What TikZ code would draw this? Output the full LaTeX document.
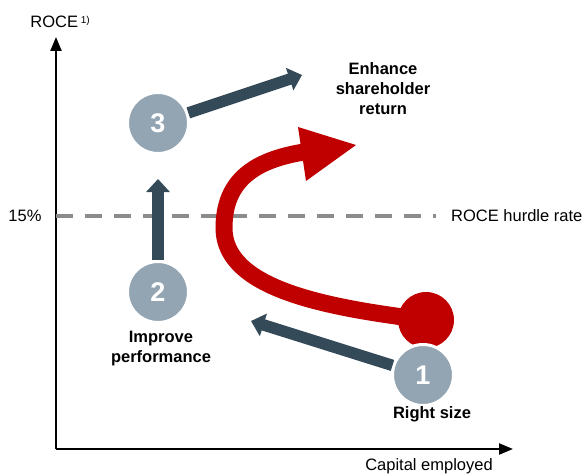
\documentclass[tikz,border=0pt]{standalone}
\usepackage{fontspec}
\setmainfont{Liberation Sans}
\usetikzlibrary{arrows.meta}
\definecolor{slate}{HTML}{344A59}
\definecolor{circg}{HTML}{93A5B3}
\definecolor{redc}{HTML}{C00000}
\definecolor{dashg}{HTML}{8C8C8C}
\tikzset{
  axis/.style={line width=2.2pt, -{Triangle[length=14pt,width=11pt]}},
  darr/.style={draw=slate, line width=11.5pt, -{Triangle[length=13pt,width=23pt]}},
  numc/.style={circle, fill=circg, draw=white, line width=3pt, minimum size=61pt, inner sep=0pt,
    text=white, font=\fontsize{27}{27}\selectfont\bfseries},
  lbl/.style={font=\fontsize{16.5}{19}\selectfont, inner sep=0pt},
  blbl/.style={font=\fontsize{16.5}{20}\selectfont\bfseries, align=center, inner sep=0pt},
}
\begin{document}
\begin{tikzpicture}[x=1pt,y=-1pt]
\useasboundingbox (0,0) rectangle (586,476);
% axes
\coordinate (o) at (56,449);
\coordinate (ytip) at (56,37);
\coordinate (xtip) at (513,449);
\draw[axis] (o) -- (ytip);
\draw[axis] (56,449) -- (xtip);
\node[lbl] (ylab) at (60,22) {ROCE\,\raisebox{0.5ex}{\fontsize{10}{10}\selectfont 1)}};
\node[lbl] (xlab) at (429,466) {Capital employed};
% hurdle
\coordinate (h0) at (56,216);
\coordinate (h1) at (436,216);
\draw[dashg, line width=4.5pt, dash pattern=on 17pt off 12pt] (h0) -- (h1);
\node[lbl] (pct) at (25,216) {15\%};
\node[lbl, anchor=west] (hurdle) at (451,216) {ROCE hurdle rate};
% red curve
\node[circle, fill=redc, minimum size=56pt, inner sep=0pt] (rc) at (426,320) {};
\draw[redc, line width=17pt] (rc.center) .. controls (330,308) and (224,290) .. (224,228)
  .. controls (224,180) and (255,160) .. (304,152);
\fill[redc] (298,127) -- (356,145) -- (306,181) -- cycle;
% numbered circles
\node[numc] (c3) at (158,123) {3};
\node[numc] (c2) at (158,292) {2};
\node[numc] (c1) at (423,375) {1};
\coordinate (t3) at (302,75);
\coordinate (t2) at (158,179);
\coordinate (t1) at (251,321);
\draw[darr] (c3) -- (t3);
\draw[darr] (c2) -- (t2);
\draw[darr] (c1) -- (t1);
% labels
\node[blbl] (l3) at (383,89) {Enhance\\shareholder\\return};
\node[blbl] (l2) at (161,349) {Improve\\performance};
\node[blbl] (l1) at (432,414) {Right size};
\end{tikzpicture}
\end{document}
